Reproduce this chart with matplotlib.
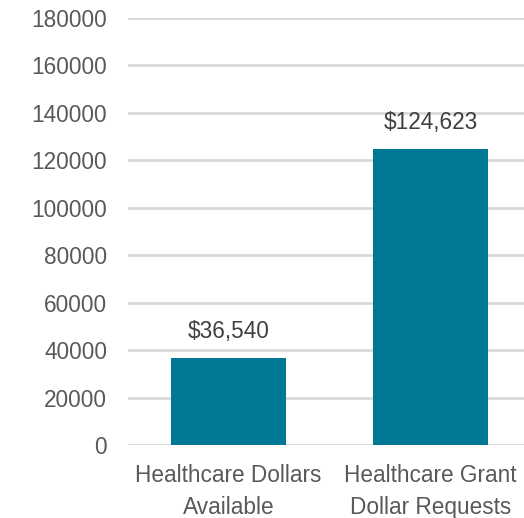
import matplotlib
matplotlib.use('Agg')
import matplotlib.pyplot as plt

categories = ['Healthcare Dollars\nAvailable', 'Healthcare Grant\nDollar Requests']
values = [36540, 124623]
yticks = [0, 20000, 40000, 60000, 80000, 100000, 120000, 140000, 160000, 180000]

plt.rcParams['font.family'] = ['Liberation Sans', 'DejaVu Sans']

fig = plt.figure(figsize=(5.24, 5.18), dpi=100)
ax = fig.add_axes([128 / 524, 1 - 445 / 518, 396 / 524, 427 / 518])

x = range(len(categories))
bars = ax.bar(x, values, width=0.57, color='#007896', zorder=3)

for b, v in zip(bars, values):
    ax.annotate(f'${v:,}', (b.get_x() + b.get_width() / 2, v),
                xytext=(0, 11), textcoords='offset points',
                ha='center', va='bottom', fontsize=16.3, color='#404040')

ax.set_ylim(0, 180000)
ax.set_xlim(-0.4975, 1.463)
ax.set_yticks(yticks)
ax.set_yticklabels([str(t) for t in yticks])
ax.set_xticks(list(x))
ax.set_xticklabels(categories, linespacing=1.45)
ax.yaxis.grid(True, color='#d9d9d9', linewidth=2, zorder=0)
ax.tick_params(axis='y', length=0, pad=15, labelsize=16.3, labelcolor='#595959')
ax.tick_params(axis='x', length=0, pad=14, labelsize=16.3, labelcolor='#595959')
for s in ax.spines.values():
    s.set_visible(False)

fig.savefig('out.png', dpi=100)
